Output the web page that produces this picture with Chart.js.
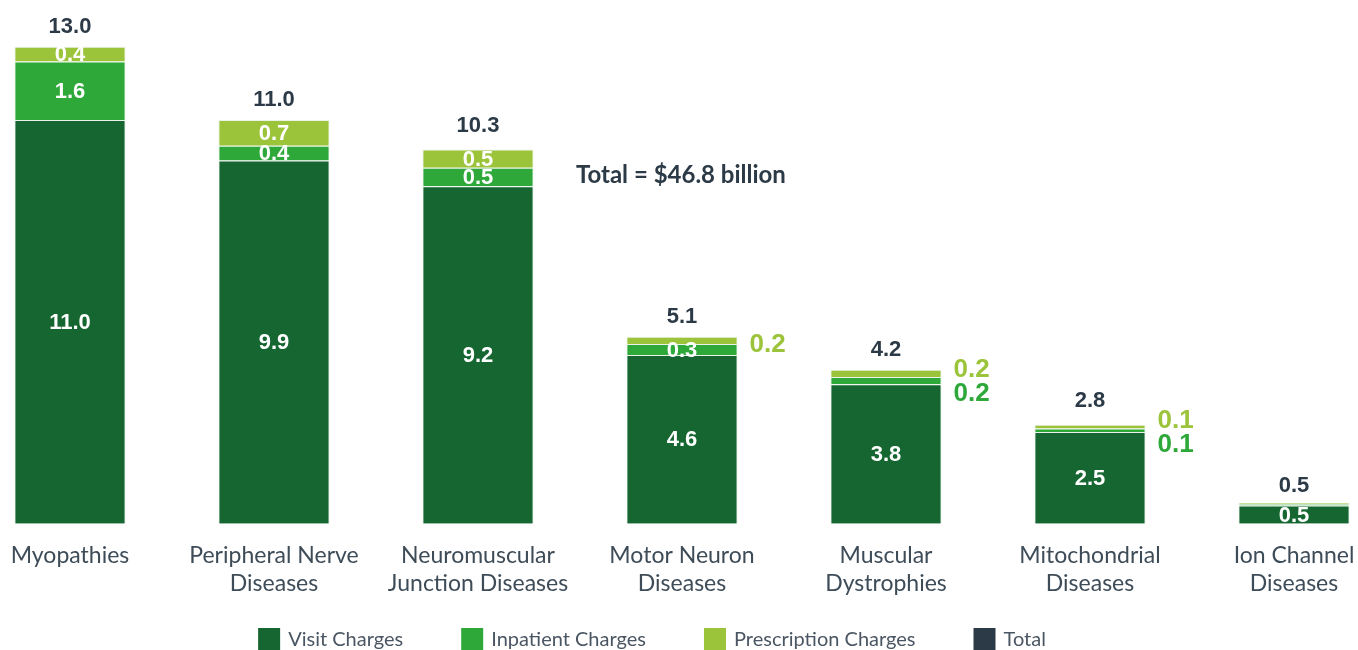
<!DOCTYPE html>
<html>
<head>
<meta charset="utf-8">
<script src="https://cdn.jsdelivr.net/npm/chart.js@4.4.1/dist/chart.umd.min.js"></script>
<style>
  html, body { margin: 0; padding: 0; background: #ffffff; overflow: hidden; }
  body { width: 1358px; height: 650px; position: relative; }
  #wrap { position: absolute; left: -32px; top: 0; width: 1428px; height: 650px; }
</style>
</head>
<body>
<div id="wrap"><canvas id="chart"></canvas></div>
<script>
// Neuromuscular disease charges by category, in billions of dollars
const categories = [
  'Myopathies',
  ['Peripheral Nerve', 'Diseases'],
  ['Neuromuscular', 'Junction Diseases'],
  ['Motor Neuron', 'Diseases'],
  ['Muscular', 'Dystrophies'],
  ['Mitochondrial', 'Diseases'],
  ['Ion Channel', 'Diseases']
];
const visitCharges        = [11.0, 9.9, 9.2, 4.6, 3.8, 2.5, 0.5];
const inpatientCharges    = [1.6, 0.4, 0.5, 0.3, 0.2, 0.1, 0.04];
const prescriptionCharges = [0.4, 0.7, 0.5, 0.2, 0.2, 0.1, 0.03];
const totals              = [13.0, 11.0, 10.3, 5.1, 4.2, 2.8, 0.5];
const grandTotalText = 'Total = $46.8 billion';

const COLORS = {
  visit: '#156630',
  inpatient: '#2fa83a',
  prescription: '#9cc43b',
  total: '#2b3a46'
};

const fmt = v => v.toFixed(1);

// Value labels: inside segments (white), beside thin segments (segment colour), totals above
const valueLabels = {
  id: 'valueLabels',
  afterDatasetsDraw(chart) {
    const ctx = chart.ctx;
    ctx.save();
    const n = categories.length;
    for (let i = 0; i < n; i++) {
      const outside = [];
      // top-most segment first for the beside labels
      for (let d = 2; d >= 0; d--) {
        const ds = chart.data.datasets[d];
        const el = chart.getDatasetMeta(d).data[i];
        const v = ds.data[i];
        if (v >= 0.3) {
          ctx.font = 'bold 22px "Liberation Sans", Arial, sans-serif';
          ctx.fillStyle = '#ffffff';
          ctx.textAlign = 'center';
          ctx.textBaseline = 'middle';
          ctx.fillText(fmt(v), el.x, (el.y + el.base) / 2 + 1);
        } else if (v >= 0.1) {
          outside.push({ v, el, color: ds.backgroundColor });
        }
      }
      if (outside.length) {
        const top = Math.min(...outside.map(o => o.el.y));
        const bottom = Math.max(...outside.map(o => o.el.base));
        const mid = (top + bottom) / 2 + 4.5;
        const step = 24;
        const start = mid - step * (outside.length - 1) / 2;
        ctx.font = 'bold 26px "Liberation Sans", Arial, sans-serif';
        ctx.textAlign = 'left';
        ctx.textBaseline = 'middle';
        outside.forEach((o, k) => {
          ctx.fillStyle = o.color;
          ctx.fillText(fmt(o.v), o.el.x + o.el.width / 2 + 12, start + k * step);
        });
      }
      // total above the bar
      const tEl = chart.getDatasetMeta(3).data[i];
      ctx.font = 'bold 22px "Liberation Sans", Arial, sans-serif';
      ctx.fillStyle = COLORS.total;
      ctx.textAlign = 'center';
      ctx.textBaseline = 'middle';
      ctx.fillText(fmt(totals[i]), tEl.x, tEl.y - 20);
    }
    // overall total note
    const xs = chart.scales.x, ys = chart.scales.y;
    const nx = xs.getPixelForValue(2) + (xs.getPixelForValue(3) - xs.getPixelForValue(2)) * 0.48;
    ctx.font = 'bold 24px Lato, sans-serif';
    ctx.fillStyle = COLORS.total;
    ctx.textAlign = 'left';
    ctx.textBaseline = 'middle';
    ctx.fillText(grandTotalText, nx, ys.getPixelForValue(9.5));
    ctx.restore();
  }
};

// Legend row along the bottom edge
const bottomLegend = {
  id: 'bottomLegend',
  afterDraw(chart) {
    const ctx = chart.ctx;
    ctx.save();
    ctx.font = '20px Lato, sans-serif';
    const box = 22, gapText = 8, gapItem = 58;
    const items = chart.data.datasets.map(ds => ({
      text: ds.label,
      color: ds.legendColor || ds.backgroundColor,
      w: box + gapText + ctx.measureText(ds.label).width
    }));
    const total = items.reduce((s, it) => s + it.w, 0) + gapItem * (items.length - 1);
    let x = chart.width / 2 - 30 - total / 2;
    const cy = chart.height - 11;
    ctx.textAlign = 'left';
    ctx.textBaseline = 'middle';
    items.forEach(it => {
      ctx.fillStyle = it.color;
      ctx.fillRect(x, cy - box / 2, box, box);
      ctx.fillStyle = '#4a5663';
      ctx.fillText(it.text, x + box + gapText, cy + 1);
      x += it.w + gapItem;
    });
    ctx.restore();
  }
};

const barCommon = {
  borderColor: 'rgba(230,240,230,0.85)',
  borderWidth: 1,
  barPercentage: 0.545,
  categoryPercentage: 1.0,
  stack: 'charges'
};

new Chart(document.getElementById('chart'), {
  type: 'bar',
  data: {
    labels: categories,
    datasets: [
      { label: 'Visit Charges', data: visitCharges, backgroundColor: COLORS.visit, ...barCommon },
      { label: 'Inpatient Charges', data: inpatientCharges, backgroundColor: COLORS.inpatient, ...barCommon },
      { label: 'Prescription Charges', data: prescriptionCharges, backgroundColor: COLORS.prescription, ...barCommon },
      {
        label: 'Total', type: 'line', data: totals, yAxisID: 'yTot',
        showLine: false, pointRadius: 0, pointHoverRadius: 0,
        borderColor: COLORS.total, backgroundColor: COLORS.total
      }
    ]
  },
  options: {
    responsive: true,
    maintainAspectRatio: false,
    animation: false,
    layout: { padding: { top: 10, bottom: 35, left: 0, right: 0 } },
    scales: {
      x: {
        stacked: true,
        grid: { display: false, drawTicks: false },
        border: { display: false },
        ticks: {
          color: '#3e4c58',
          font: { family: 'Lato', size: 23, lineHeight: 1.2 },
          padding: 18,
          maxRotation: 0,
          autoSkip: false
        }
      },
      y: {
        stacked: true,
        display: false,
        min: 0,
        max: 14
      },
      yTot: {
        display: false,
        min: 0,
        max: 14
      }
    },
    plugins: {
      legend: { display: false },
      tooltip: { enabled: false }
    }
  },
  plugins: [valueLabels, bottomLegend]
});
</script>
</body>
</html>
